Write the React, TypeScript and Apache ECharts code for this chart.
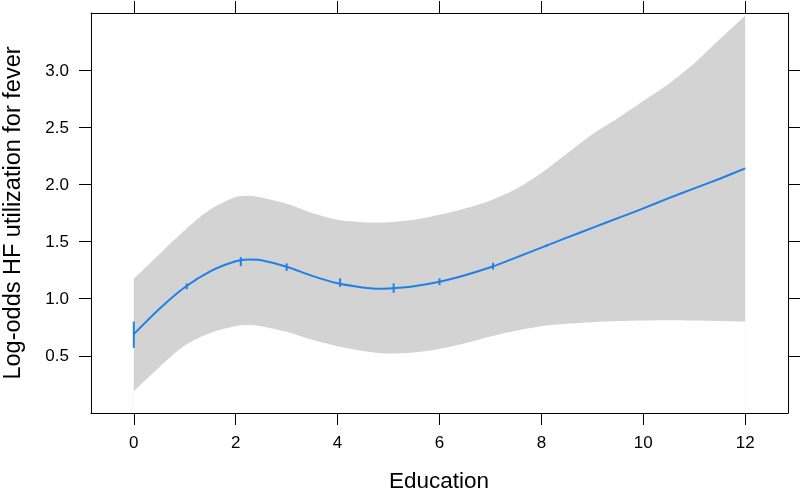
import React, { useEffect, useRef } from "react";
import * as echarts from "echarts";

// ---- data ----
const xGrid = [0, 0.5, 1, 1.5, 2, 2.25, 2.5, 3, 3.5, 4, 4.5, 4.75, 5, 5.5, 6, 6.5, 7, 7.5, 8, 8.5, 9, 9.5, 10, 10.5, 11, 11.5, 12];
const fitValues = [0.69, 0.91, 1.1, 1.24, 1.328, 1.343, 1.336, 1.28, 1.2, 1.135, 1.098, 1.088, 1.09, 1.11, 1.148, 1.205, 1.275, 1.36, 1.447, 1.535, 1.62, 1.705, 1.79, 1.88, 1.965, 2.05, 2.14];
const lowerValues = [0.19, 0.4, 0.59, 0.7, 0.762, 0.77, 0.76, 0.71, 0.64, 0.585, 0.542, 0.528, 0.52, 0.53, 0.56, 0.61, 0.67, 0.72, 0.76, 0.78, 0.795, 0.805, 0.81, 0.812, 0.81, 0.805, 0.8];
const upperValues = [1.175, 1.39, 1.6, 1.78, 1.89, 1.902, 1.885, 1.83, 1.75, 1.69, 1.668, 1.665, 1.668, 1.69, 1.735, 1.79, 1.86, 1.96, 2.1, 2.27, 2.44, 2.58, 2.73, 2.88, 3.06, 3.27, 3.475];
const rugX = [0, 1.04, 2.1, 3.0, 4.05, 5.1, 6.0, 7.05, 8.1];
const rugLow = [0.57, 1.082, 1.285, 1.244, 1.104, 1.052, 1.119, 1.256, 1.452];
const rugHigh = [0.8, 1.134, 1.364, 1.309, 1.178, 1.134, 1.178, 1.314, 1.474];
const xTicks = [0, 2, 4, 6, 8, 10, 12];
const yTicks = [0.5, 1.0, 1.5, 2.0, 2.5, 3.0];
const xRange = [-0.84, 12.84];
const yRange = [0, 3.5];
const xTitle = "Education";
const yTitle = "Log-odds HF utilization for fever";

const FONT = "'Liberation Sans', Arial, Helvetica, sans-serif";
const BLUE = "#1f80e6";
const BAND = "#d3d3d3";

export default function App() {
  const ref = useRef<HTMLDivElement>(null);
  useEffect(() => {
    document.body.style.margin = "0";
    const chart = echarts.init(ref.current!, null, { renderer: "svg" });
    const lowerData = xGrid.map((x, i) => [x, lowerValues[i]]);
    const upperData = xGrid.map((x, i) => [x, upperValues[i]]);
    const fitData = xGrid.map((x, i) => [x, fitValues[i]]);
    const rugData = rugX.map((x, i) => [x, rugLow[i], rugHigh[i]]);
    const axisLine = { show: true, onZero: false, lineStyle: { color: "#000", width: 1 } };
    const tick = (vals: number[]) => ({ show: true, length: 12, customValues: vals, lineStyle: { color: "#000", width: 1 } });
    const option: any = {
      animation: false,
      grid: { left: 91, top: 13, right: 12, bottom: 78, containLabel: false },
      xAxis: [
        {
          type: "value", min: xRange[0], max: xRange[1], position: "bottom", z: 10,
          axisLine, axisTick: tick(xTicks), splitLine: { show: false },
          axisLabel: { customValues: xTicks, margin: 21, fontSize: 17, color: "#000", fontFamily: FONT, formatter: (v: number) => String(v) },
        },
        {
          type: "value", min: xRange[0], max: xRange[1], position: "top", z: 10,
          axisLine, axisTick: tick(xTicks), splitLine: { show: false }, axisLabel: { show: false },
        },
      ],
      yAxis: [
        {
          type: "value", min: yRange[0], max: yRange[1], position: "left", z: 10,
          axisLine, axisTick: tick(yTicks), splitLine: { show: false },
          axisLabel: { customValues: yTicks, margin: 22, fontSize: 17, color: "#000", fontFamily: FONT, formatter: (v: number) => v.toFixed(1) },
        },
        {
          type: "value", min: yRange[0], max: yRange[1], position: "right", z: 10,
          axisLine, axisTick: tick(yTicks), splitLine: { show: false }, axisLabel: { show: false },
        },
      ],
      graphic: [
        { type: "text", x: 439, y: 480, style: { text: xTitle, fontSize: 22.5, lineHeight: 18, fontFamily: FONT, fill: "#000", align: "center", verticalAlign: "middle" } },
        { type: "text", x: 12, y: 213, rotation: Math.PI / 2, style: { text: yTitle, fontSize: 23.5, lineHeight: 18, fontFamily: FONT, fill: "#000", align: "center", verticalAlign: "middle" } },
      ],
      series: [
        {
          type: "line", data: upperData, symbol: "none", smooth: 0.3,
          lineStyle: { opacity: 0 }, areaStyle: { color: BAND, opacity: 1, origin: "start" }, silent: true, z: 1,
        },
        {
          type: "line", data: lowerData, symbol: "none", smooth: 0.3,
          lineStyle: { opacity: 0 }, areaStyle: { color: "#ffffff", opacity: 1, origin: "start" }, silent: true, z: 1,
        },
        { type: "line", data: fitData, symbol: "none", smooth: 0.3, lineStyle: { color: BLUE, width: 2 }, z: 3 },
        {
          type: "custom", data: rugData, encode: { x: 0, y: [1, 2] }, z: 4,
          renderItem: (params: any, api: any) => {
            const p1 = api.coord([api.value(0), api.value(1)]);
            const p2 = api.coord([api.value(0), api.value(2)]);
            return { type: "line", shape: { x1: p1[0], y1: p1[1], x2: p2[0], y2: p2[1] }, style: { stroke: BLUE, lineWidth: 2 } };
          },
        },
      ],
    };
    chart.setOption(option);
    return () => chart.dispose();
  }, []);
  return <div ref={ref} style={{ position: "fixed", left: 0, top: 0, width: 800, height: 491 }} />;
}
